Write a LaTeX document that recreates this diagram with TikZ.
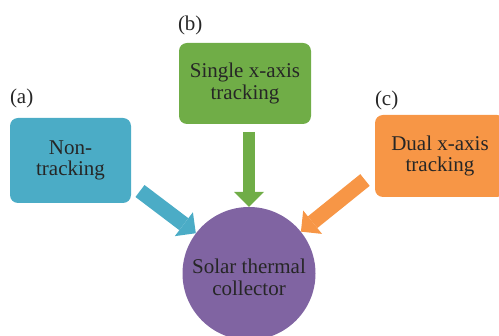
\documentclass[tikz,border=0pt]{standalone}
\usepackage{fontspec}
\setmainfont{Liberation Serif}
\usetikzlibrary{arrows.meta,positioning}

\begin{document}
\begin{tikzpicture}[x=1pt,y=-1pt]
    \definecolor{myblue}{HTML}{4BACC6}
    \definecolor{mygreen}{HTML}{70AD47}
    \definecolor{myorange}{HTML}{F79646}
    \definecolor{mypurple}{HTML}{8064A2}
    \definecolor{mytext}{HTML}{262626}

    \fontsize{21pt}{21.5pt}\selectfont  % 字体大小
    \tikzset{format/.style={rectangle,rounded corners=8pt,align=center,text=mytext,inner sep=0pt}}  % 方框
    \tikzset{sink/.style={circle,fill=mypurple,align=center,text=mytext,inner sep=0pt,minimum size=133pt}}  % 圆
    \tikzset{tag/.style={text=mytext,inner sep=0pt}}  % 编号
    \tikzset{fat/.style={line width=15pt,-{Triangle[width=30pt,length=15pt,line width=0pt]}}}  % 粗箭头

    \useasboundingbox (0,0) rectangle (499,336);

    % 定义note
    \node[format,fill=myblue,minimum width=121pt,minimum height=85pt] (nt) at (70.5,160.5) {Non-\\tracking};
    \node[format,fill=mygreen,minimum width=132pt,minimum height=81pt] (sx) at (245,83.5) {Single x-axis\\tracking};
    \node[format,fill=myorange,minimum width=130pt,minimum height=82pt] (dx) at (440,156) {Dual x-axis\\tracking};
    \node[sink] (col) at (249,273.5) {};
    \node[align=center,text=mytext,inner sep=0pt] (coltext) at ([yshift=-4pt]col.center) {Solar thermal\\collector};

    % 编号
    \node[tag,above right=10pt and 0pt of nt.north west] (ta) {(a)};
    \node[tag,above right=8pt and -1pt of sx.north west] (tb) {(b)};
    \node[tag,above right=5pt and 0pt of dx.north west] (tc) {(c)};

    % 开始画线
    \coordinate (nt-tail) at (140,191);
    \coordinate (sx-tail) at (249,132);
    \coordinate (dx-tail) at (365,180);
    \draw[fat,draw=myblue,fill=myblue](nt-tail)--(col);
    \draw[fat,line width=12pt,draw=mygreen,fill=mygreen](sx-tail)--(col);
    \draw[fat,draw=myorange,fill=myorange](dx-tail)--(col);
\end{tikzpicture}
\end{document}
